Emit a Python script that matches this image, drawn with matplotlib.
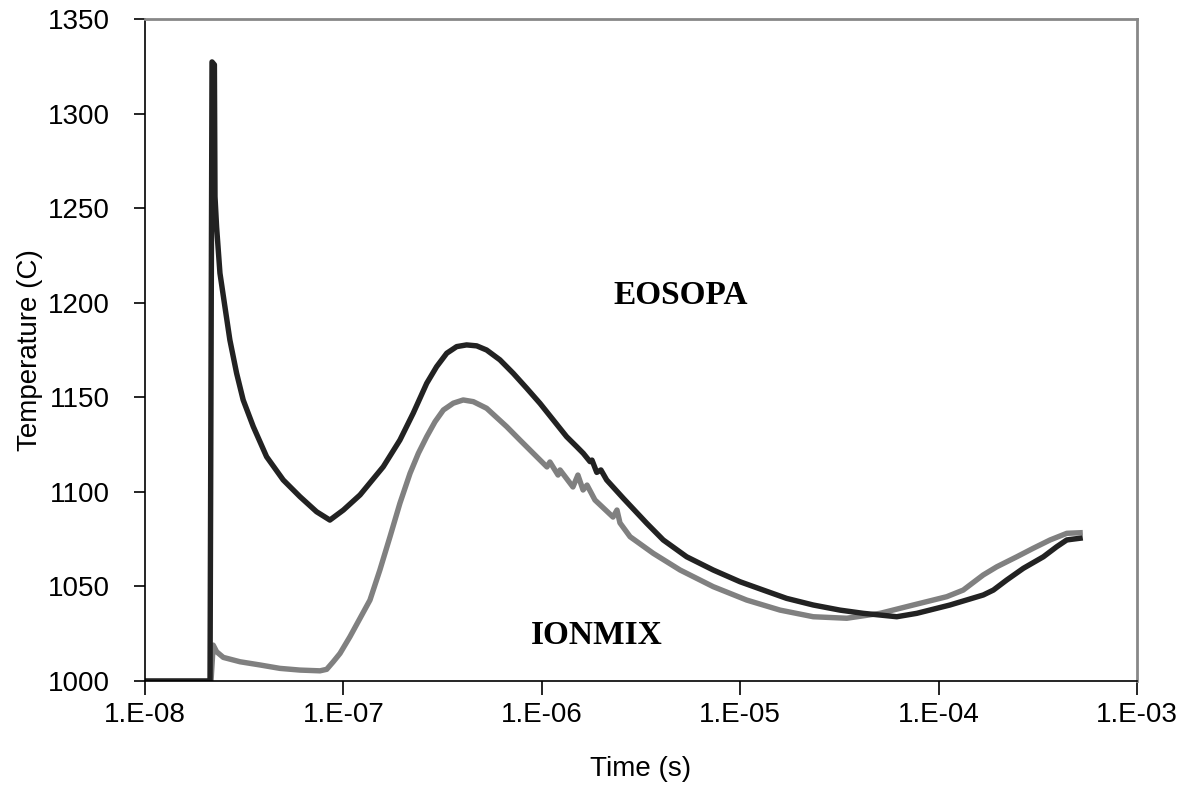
import numpy as np
import matplotlib
matplotlib.use("Agg")
import matplotlib.pyplot as plt
from matplotlib.ticker import FixedLocator, FuncFormatter, NullLocator

# === Data (log10 of time in s, temperature in C) ===
eos_logt = [-8.0, -7.672, -7.662, -7.650, -7.647, -7.639, -7.622, -7.597, -7.572,
            -7.538, -7.505, -7.454, -7.387, -7.303, -7.219, -7.135, -7.068, -7.000,
            -6.916, -6.799, -6.715, -6.648, -6.580, -6.530, -6.479, -6.429, -6.379,
            -6.328, -6.278, -6.211, -6.144, -6.076, -6.009, -5.942, -5.875, -5.824,
            -5.791, -5.757, -5.747, -5.723, -5.702, -5.673, -5.589, -5.471, -5.388,
            -5.270, -5.136, -5.001, -4.884, -4.766, -4.632, -4.497, -4.380, -4.211,
            -4.110, -3.943, -3.775, -3.724, -3.657, -3.573, -3.472, -3.405, -3.354,
            -3.287]
eos_temp = [1000.0, 1000.0, 1327.3, 1325.8, 1256.1, 1240.2, 1215.6, 1197.9, 1180.3,
            1162.7, 1148.6, 1134.5, 1118.6, 1106.3, 1097.5, 1089.5, 1085.1, 1090.4,
            1098.4, 1113.3, 1127.4, 1141.6, 1157.4, 1166.2, 1173.3, 1176.8, 1177.7,
            1177.2, 1175.0, 1169.8, 1162.7, 1154.8, 1146.8, 1138.0, 1129.2, 1123.9,
            1120.4, 1116.0, 1116.8, 1110.3, 1111.6, 1106.3, 1096.6, 1083.4, 1074.6,
            1065.7, 1058.7, 1052.5, 1048.1, 1043.7, 1040.2, 1037.5, 1035.8, 1034.0,
            1035.8, 1040.2, 1045.5, 1048.1, 1053.4, 1059.6, 1065.7, 1071.0, 1074.6,
            1075.5]

ion_logt = [-8.0, -7.667, -7.656, -7.639, -7.605, -7.521, -7.420, -7.320, -7.219,
            -7.118, -7.084, -7.051, -7.017, -6.967, -6.916, -6.866, -6.816, -6.765,
            -6.715, -6.664, -6.622, -6.580, -6.538, -6.496, -6.446, -6.396, -6.345,
            -6.278, -6.177, -6.110, -6.043, -5.974, -5.959, -5.918, -5.908, -5.843,
            -5.818, -5.792, -5.772, -5.732, -5.641, -5.621, -5.606, -5.555, -5.438,
            -5.303, -5.136, -4.967, -4.799, -4.632, -4.463, -4.295, -4.128, -3.959,
            -3.876, -3.775, -3.707, -3.606, -3.523, -3.438, -3.354, -3.287]
ion_temp = [1000.0, 1000.0, 1019.0, 1015.5, 1012.5, 1010.2, 1008.5, 1006.7, 1005.8,
            1005.4, 1006.2, 1010.2, 1014.6, 1023.4, 1033.2, 1042.8, 1058.7, 1076.3,
            1094.0, 1109.8, 1120.4, 1129.2, 1137.1, 1143.3, 1146.9, 1148.6, 1147.7,
            1144.2, 1134.5, 1127.4, 1120.4, 1113.2, 1115.8, 1108.9, 1111.6, 1102.6,
            1108.9, 1101.0, 1103.6, 1095.7, 1086.7, 1090.4, 1083.6, 1076.3, 1067.5,
            1058.7, 1049.9, 1042.8, 1037.5, 1034.0, 1033.2, 1035.8, 1040.2, 1044.6,
            1048.1, 1056.1, 1060.4, 1065.7, 1070.2, 1074.6, 1078.1, 1078.4]

x_ticks = [1e-8, 1e-7, 1e-6, 1e-5, 1e-4, 1e-3]
y_ticks = [1000, 1050, 1100, 1150, 1200, 1250, 1300, 1350]

# === Figure ===
fig = plt.figure(figsize=(11.94, 7.91), dpi=100)
ax = fig.add_axes([0.1214, 0.139, 0.8309, 0.837])

ax.plot(10 ** np.array(ion_logt), ion_temp, color="#808080", lw=3.9,
        solid_joinstyle="round")
ax.plot(10 ** np.array(eos_logt), eos_temp, color="#222222", lw=3.9,
        solid_joinstyle="round")

ax.set_xscale("log")
ax.set_xlim(1e-8, 1e-3)
ax.set_ylim(1000, 1350)
ax.xaxis.set_major_locator(FixedLocator(x_ticks))
ax.xaxis.set_minor_locator(NullLocator())
ax.xaxis.set_major_formatter(
    FuncFormatter(lambda v, p: "1.E%s" % format(int(round(np.log10(v))), "03d")))
ax.set_yticks(y_ticks)

ax.tick_params(axis="both", direction="out", labelsize=20, width=1.2,
               colors="black")
ax.tick_params(axis="x", length=10, pad=5)
ax.tick_params(axis="y", length=8, pad=17)
for lab in ax.get_xticklabels() + ax.get_yticklabels():
    lab.set_family("Liberation Sans")

ax.spines["left"].set_linewidth(1.2)
ax.spines["bottom"].set_linewidth(1.2)
for s in ("top", "right"):
    ax.spines[s].set_color("#888888")
    ax.spines[s].set_linewidth(2)

ax.set_xlabel("Time (s)", fontsize=20, family="Liberation Sans", labelpad=20)
ax.set_ylabel("Temperature (C)", fontsize=20, family="Liberation Sans", labelpad=4)

ax.text(5.0e-6, 1204, "EOSOPA", fontsize=24, fontweight="bold",
        family="Liberation Serif", ha="center", va="center")
ax.text(1.9e-6, 1024, "IONMIX", fontsize=24, fontweight="bold",
        family="Liberation Serif", ha="center", va="center")

fig.savefig("out.png", dpi=100, facecolor="white")
